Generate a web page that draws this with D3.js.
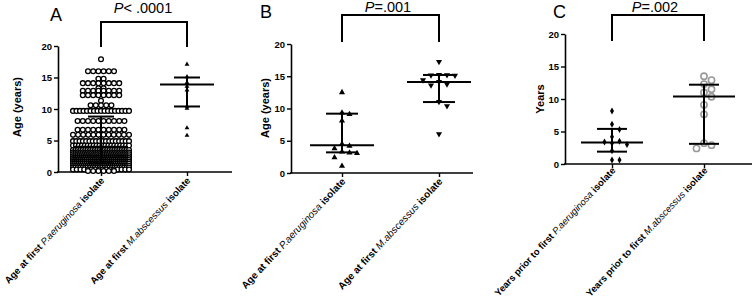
<!DOCTYPE html>
<html><head><meta charset="utf-8">
<script src="https://cdn.jsdelivr.net/npm/d3@7"></script>
<style>
body{margin:0;background:#fff}
svg{display:block}
text{font-family:Arial,"Liberation Sans",sans-serif}
</style>
</head><body>
<svg id="c" width="753" height="301"></svg>
<script>
// ---------------- DATA ----------------
const panelLetters = ["A", "B", "C"];
const pValueTexts = ["< .0001", "=.001", "=.002"];
const yTitles = ["Age (years)", "Age (years)", "Years"];
const yTickValues = [0, 5, 10, 15, 20];
const catPrefixes = ["Age at first ", "Age at first ", "Years prior to first "];
const catOrganisms = ["P.aeruginosa", "M.abscessus"];
const catSuffix = " isolate";

// Panel A, P. aeruginosa: beeswarm rows (value, number of patients)
const aPaeRowValues = [17.9, 16.0, 14.8, 14.1, 13.3, 12.9, 12.2, 11.3, 10.6, 9.7, 8.1, 6.7, 5.9, 4.9, 4.2, 3.5, 3.1, 2.8, 2.5, 2.2, 1.9, 1.6, 1.3, 1.0, 0.7, 0.4, 0.15];
const aPaeRowCounts = [1, 6, 2, 8, 2, 8, 8, 1, 5, 17, 10, 10, 12, 18, 20, 24, 24, 26, 28, 28, 30, 30, 30, 28, 24, 16, 6];
// Panel A, M. abscessus
const aMab = [17.1, 15.1, 14.2, 13.6, 13.0, 10.4, 10.1, 7.0, 5.8];
// Panel B
const bPae = [12.5, 9.35, 9.1, 8.1, 4.5, 4.2, 3.8, 3.3, 3.15, 3.05, 2.4, 1.1];
const bMab = [17.25, 15.25, 15.2, 15.15, 15.1, 14.4, 14.15, 13.75, 13.6, 11.05, 10.4, 6.05];
// Panel C
const cPae = [8.15, 6.1, 5.3, 4.2, 3.5, 3.4, 3.2, 3.0, 2.05, 0.6, 0.6];
const cMab = [13.5, 12.9, 12.3, 11.5, 11.0, 10.35, 9.1, 7.65, 3.2, 2.9, 2.4];
// median with interquartile range, per panel [P.aeruginosa, M.abscessus]
const medians = [[4.0, 13.9], [4.3, 14.1], [3.3, 10.4]];
const lowerQuartiles = [[1.4, 10.4], [3.2, 11.0], [1.9, 3.1]];
const upperQuartiles = [[8.8, 15.0], [9.2, 15.2], [5.4, 12.2]];

// ---------------- LAYOUT ----------------
const panels = [
  {x0: 58, x1: 232, y0: 172, y1: 46, cats: [101, 187], letter: [50, 21], pMid: 143, pBase: 13, brTop: 22, brBot: 47, yTitle: [17, 107], medHalf: 27, capHalf: 13, lblFont: 9.6, lblDy: 9},
  {x0: 291, x1: 473, y0: 173, y1: 44, cats: [342, 439], letter: [260, 18], pMid: 388, pBase: 12, brTop: 15, brBot: 42, yTitle: [265, 108], medHalf: 32, capHalf: 16, lblFont: 10, lblDy: 9},
  {x0: 565, x1: 752, y0: 164, y1: 34, cats: [612, 704], letter: [553, 18], pMid: 655, pBase: 12, brTop: 15, brBot: 41, yTitle: [540, 99], medHalf: 31, capHalf: 15, lblFont: 9.5, lblDy: 7}
];

const svg = d3.select("#c");

function dodge(values, y, size) {
  const pts = values.map(v => ({v, y: y(v)})).sort((a, b) => b.v - a.v);
  const placed = [];
  for (const p of pts) {
    let k = 0;
    while (true) {
      const off = k === 0 ? 0 : (k % 2 ? Math.ceil(k / 2) : -Math.ceil(k / 2)) * size;
      if (size === 0 || !placed.some(q => Math.abs(q.y - p.y) < size * 0.85 && Math.abs(q.dx - off) < size * 0.85)) { p.dx = off; break; }
      k++;
    }
    placed.push(p);
  }
  return pts;
}

panels.forEach((P, i) => {
  const g = svg.append("g");
  const y = d3.scaleLinear().domain([0, 20]).range([P.y0, P.y1]);
  const x = d3.scalePoint().domain(catOrganisms).range(P.cats).padding(0);

  // y axis
  const ya = g.append("g").attr("transform", `translate(${P.x0},0)`)
    .call(d3.axisLeft(y).tickValues(yTickValues).tickSize(4).tickPadding(2).tickSizeOuter(0));
  ya.select(".domain").attr("stroke-width", 1.6);
  ya.selectAll(".tick line").attr("stroke-width", 1.4);
  ya.selectAll("text").attr("font-size", 9.5).attr("font-weight", "bold").attr("font-family", "Arial, Liberation Sans, sans-serif");

  // x axis
  g.append("line").attr("x1", P.x0 - 1).attr("x2", P.x1).attr("y1", P.y0).attr("y2", P.y0)
    .attr("stroke", "#000").attr("stroke-width", 1.6);
  const xa = g.append("g").attr("transform", `translate(0,${P.y0})`)
    .call(d3.axisBottom(x).tickSize(4).tickFormat(""));
  xa.select(".domain").remove();
  xa.selectAll(".tick line").attr("stroke-width", 1.4);

  // x labels
  catOrganisms.forEach(org => {
    const t = g.append("text")
      .attr("transform", `translate(${x(org) + 4},${P.y0 + P.lblDy}) rotate(-47)`)
      .attr("text-anchor", "end").attr("font-size", P.lblFont);
    t.append("tspan").attr("font-weight", "bold").text(catPrefixes[i]);
    t.append("tspan").attr("font-style", "italic").text(org);
    t.append("tspan").attr("font-weight", "bold").text(catSuffix);
  });

  // y title
  g.append("text").attr("transform", `translate(${P.yTitle[0]},${P.yTitle[1]}) rotate(-90)`)
    .attr("text-anchor", "middle").attr("dominant-baseline", "central")
    .attr("font-size", 11).attr("font-weight", "bold").text(yTitles[i]);

  // panel letter
  g.append("text").attr("x", P.letter[0]).attr("y", P.letter[1]).attr("font-size", 18).text(panelLetters[i]);

  // p-value text
  const pt = g.append("text").attr("x", P.pMid).attr("y", P.pBase).attr("text-anchor", "middle").attr("font-size", 14.5);
  pt.append("tspan").attr("font-style", "italic").text("P");
  pt.append("tspan").text(pValueTexts[i]);

  // bracket
  g.append("path")
    .attr("d", `M${x(catOrganisms[0])},${P.brBot}V${P.brTop}H${x(catOrganisms[1])}V${P.brBot}`)
    .attr("fill", "none").attr("stroke", "#000").attr("stroke-width", 2);

  // points
  const pg = g.append("g");
  if (i === 0) {
    const maxW = 56, dia = 5.2;
    const pts = [];
    aPaeRowValues.forEach((v, r) => {
      const n = aPaeRowCounts[r];
      const s = n > 1 ? Math.min(dia, maxW / (n - 1)) : 0;
      for (let k = 0; k < n; k++) pts.push({v, dx: (k - (n - 1) / 2) * s});
    });
    pg.selectAll("circle.pae").data(pts).join("circle")
      .attr("cx", d => x(catOrganisms[0]) + d.dx).attr("cy", d => y(d.v)).attr("r", 2.4)
      .attr("fill", "#fff").attr("stroke", "#000").attr("stroke-width", 1.3);
    const mp = dodge(aMab, y, 0);
    pg.selectAll("path.mab").data(mp).join("path")
      .attr("d", d3.symbol().type(d3.symbolTriangle).size(10))
      .attr("transform", d => `translate(${x(catOrganisms[1]) + d.dx},${d.y})`).attr("fill", "#000");
  } else if (i === 1) {
    const pp = dodge(bPae, y, 7.5);
    pg.selectAll("path.pae").data(pp).join("path")
      .attr("d", d3.symbol().type(d3.symbolTriangle).size(16))
      .attr("transform", d => `translate(${x(catOrganisms[0]) + d.dx},${d.y})`).attr("fill", "#000");
    const mp = dodge(bMab, y, 8);
    pg.selectAll("path.mab").data(mp).join("path")
      .attr("d", d3.symbol().type(d3.symbolTriangle).size(16))
      .attr("transform", d => `translate(${x(catOrganisms[1]) + d.dx},${d.y}) rotate(180)`).attr("fill", "#000");
  } else {
    const pp = dodge(cPae, y, 7.5);
    pg.selectAll("path.pae").data(pp).join("path")
      .attr("d", d3.symbol().type(d3.symbolDiamond).size(14))
      .attr("transform", d => `translate(${x(catOrganisms[0]) + d.dx},${d.y})`).attr("fill", "#000");
    const mp = dodge(cMab, y, 7.5);
    pg.selectAll("circle.mab").data(mp).join("circle")
      .attr("cx", d => x(catOrganisms[1]) + d.dx).attr("cy", d => d.y).attr("r", 3.1)
      .attr("fill", "#fff").attr("stroke", "#9a9a9a").attr("stroke-width", 1.6);
  }

  // median + IQR
  catOrganisms.forEach((org, j) => {
    const cx = x(org);
    const lg = g.append("g").attr("stroke", "#000").attr("stroke-width", 2);
    lg.append("line").attr("x1", cx).attr("x2", cx).attr("y1", y(lowerQuartiles[i][j])).attr("y2", y(upperQuartiles[i][j]));
    lg.append("line").attr("x1", cx - P.capHalf).attr("x2", cx + P.capHalf).attr("y1", y(lowerQuartiles[i][j])).attr("y2", y(lowerQuartiles[i][j]));
    lg.append("line").attr("x1", cx - P.capHalf).attr("x2", cx + P.capHalf).attr("y1", y(upperQuartiles[i][j])).attr("y2", y(upperQuartiles[i][j]));
    lg.append("line").attr("x1", cx - P.medHalf).attr("x2", cx + P.medHalf).attr("y1", y(medians[i][j])).attr("y2", y(medians[i][j]));
  });
});
</script>
</body></html>
